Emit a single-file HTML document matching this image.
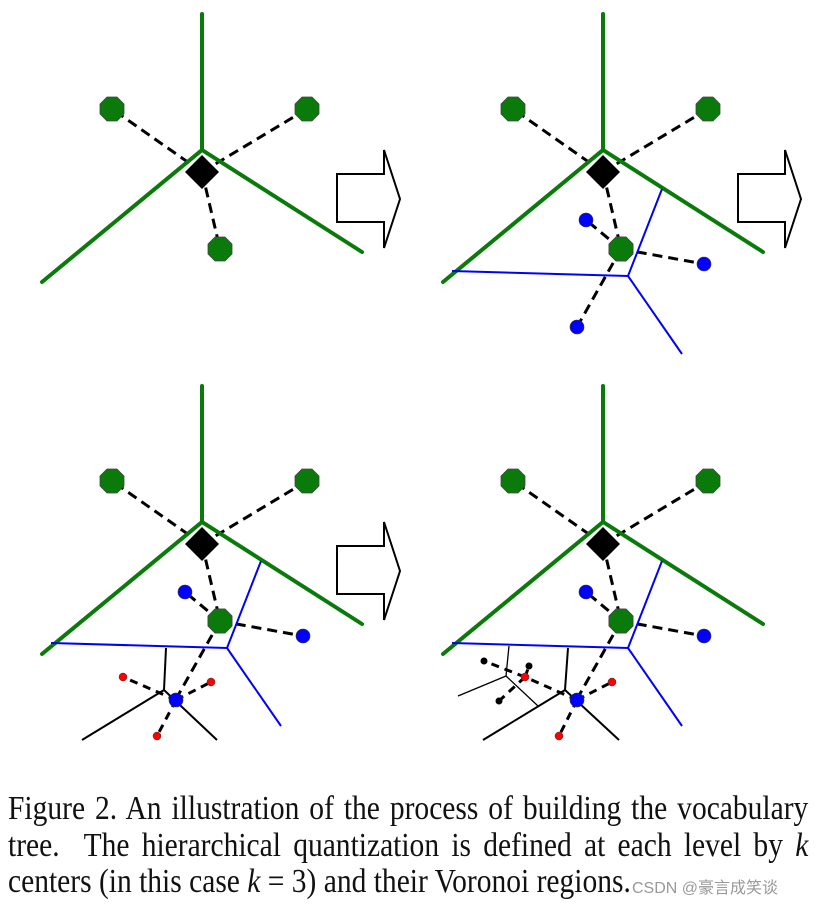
<!DOCTYPE html>
<html><head><meta charset="utf-8"><style>
html,body{margin:0;padding:0;background:#fff;width:824px;height:907px;overflow:hidden}
svg{position:absolute;left:0;top:0}
.cap{position:absolute;left:8px;top:791px;width:922px;font-family:"Liberation Serif",serif;font-size:34px;line-height:36.5px;color:#111;text-align:justify;text-align-last:left;transform:scaleX(0.868);transform-origin:0 0}
.wm{position:absolute;left:632px;top:874px;font-family:"Liberation Sans","Noto Sans CJK SC",sans-serif;font-size:16px;color:#999}
</style></head><body>
<svg width="824" height="907" viewBox="0 0 824 907">
<defs>
<g id="base">
  <g stroke="#000" stroke-width="3" stroke-dasharray="10,6" fill="none">
    <line x1="202" y1="172" x2="112" y2="109"/>
    <line x1="202" y1="172" x2="307" y2="109"/>
    <line x1="202" y1="172" x2="220" y2="249"/>
  </g>
  <g stroke-width="4" stroke-linecap="round" fill="none" style="stroke:#0a7a0a">
    <line x1="202" y1="14" x2="202" y2="150"/>
    <polyline points="42,282 202,150 362,252"/>
  </g>
  <polygon points="202,155 219,172 202,189 185,172" fill="#000"/>
  <g fill="#0a7a0a" stroke="#444" stroke-width="0.8">
    <polygon transform="translate(112,109)" points="-5,-12 5,-12 12,-5 12,5 5,12 -5,12 -12,5 -12,-5"/>
    <polygon transform="translate(307,109)" points="-5,-12 5,-12 12,-5 12,5 5,12 -5,12 -12,5 -12,-5"/>
    <polygon transform="translate(220,249)" points="-5,-12 5,-12 12,-5 12,5 5,12 -5,12 -12,5 -12,-5"/>
  </g>
</g>
<g id="lvl2">
  <g stroke="#000" stroke-width="3" stroke-dasharray="10,6" fill="none">
    <line x1="220" y1="249" x2="185" y2="220"/>
    <line x1="220" y1="249" x2="303" y2="264"/>
    <line x1="220" y1="249" x2="176" y2="327"/>
  </g>
  <g stroke="#0000ff" stroke-width="2" fill="none">
    <polyline points="51,271 227,276 261,189"/>
    <line x1="227" y1="276" x2="281" y2="354"/>
  </g>
  <polygon transform="translate(220,249)" points="-5,-12 5,-12 12,-5 12,5 5,12 -5,12 -12,5 -12,-5" fill="#0a7a0a" stroke="#444" stroke-width="0.8"/>
  <g fill="#0000ff" stroke="#333" stroke-width="0.6">
    <circle cx="185" cy="220" r="7"/>
    <circle cx="303" cy="264" r="7"/>
  </g>
</g>
<g id="arrow">
  <polygon points="337,174 384,174 384,150 400,199 384,248 384,222 337,222" fill="#fff" stroke="#000" stroke-width="2"/>
</g>
</defs>

<use href="#base"/>
<use href="#arrow"/>
<g transform="translate(401,0)">
  <use href="#base"/>
  <use href="#lvl2"/>
  <circle cx="176" cy="327" r="7" fill="#0000ff" stroke="#333" stroke-width="0.6"/>
  <use href="#arrow"/>
</g>
<g transform="translate(0,372)">
  <use href="#base"/>
  <use href="#lvl2"/>
  <use href="#arrow"/>
</g>
<g>
  <g stroke="#000" stroke-width="2" fill="none">
    <polyline points="166,648 164,690 82,740"/>
    <line x1="164" y1="690" x2="217" y2="740"/>
  </g>
  <g stroke="#000" stroke-width="3" stroke-dasharray="8,6" fill="none">
    <line x1="176" y1="700" x2="123" y2="677"/>
    <line x1="176" y1="700" x2="211" y2="682"/>
    <line x1="176" y1="700" x2="157" y2="736"/>
  </g>
  <circle cx="176" cy="700" r="7" fill="#0000ff" stroke="#333" stroke-width="0.6"/>
  <g fill="#ff0000" stroke="#333" stroke-width="0.5">
    <circle cx="123" cy="677" r="4"/><circle cx="211" cy="682" r="4"/><circle cx="157" cy="736" r="4"/>
  </g>
</g>
<g transform="translate(401,372)">
  <use href="#base"/>
  <use href="#lvl2"/>
</g>
<g>
  <g stroke="#000" stroke-width="2" fill="none">
    <polyline points="568,648 565,690 483,740"/>
    <line x1="565" y1="690" x2="619" y2="740"/>
  </g>
  <g stroke="#000" stroke-width="1.3" fill="none">
    <polyline points="509,646 506,676 458,696"/>
    <line x1="506" y1="676" x2="538" y2="706"/>
  </g>
  <g stroke="#000" stroke-width="3" stroke-dasharray="8,6" fill="none">
    <line x1="577" y1="700" x2="525" y2="677"/>
    <line x1="577" y1="700" x2="612" y2="682"/>
    <line x1="577" y1="700" x2="559" y2="736"/>
    <line x1="525" y1="677" x2="484" y2="661"/>
    <line x1="525" y1="677" x2="529" y2="666"/>
    <line x1="525" y1="677" x2="499" y2="701"/>
  </g>
  <circle cx="577" cy="700" r="7" fill="#0000ff" stroke="#333" stroke-width="0.6"/>
  <g fill="#ff0000" stroke="#333" stroke-width="0.5">
    <circle cx="525" cy="677" r="4"/><circle cx="612" cy="682" r="4"/><circle cx="559" cy="736" r="4"/>
  </g>
  <g fill="#000">
    <circle cx="484" cy="661" r="3.5"/><circle cx="529" cy="666" r="3.5"/><circle cx="499" cy="701" r="3.5"/>
  </g>
</g>
</svg>
<div class="cap">Figure 2. An illustration of the process of building the vocabulary tree.&nbsp; The hierarchical quantization is defined at each level by <i>k</i> centers (in this case <i>k</i> = 3) and their Voronoi regions.</div>
<div class="wm">CSDN @豪言成笑谈</div>
</body></html>
